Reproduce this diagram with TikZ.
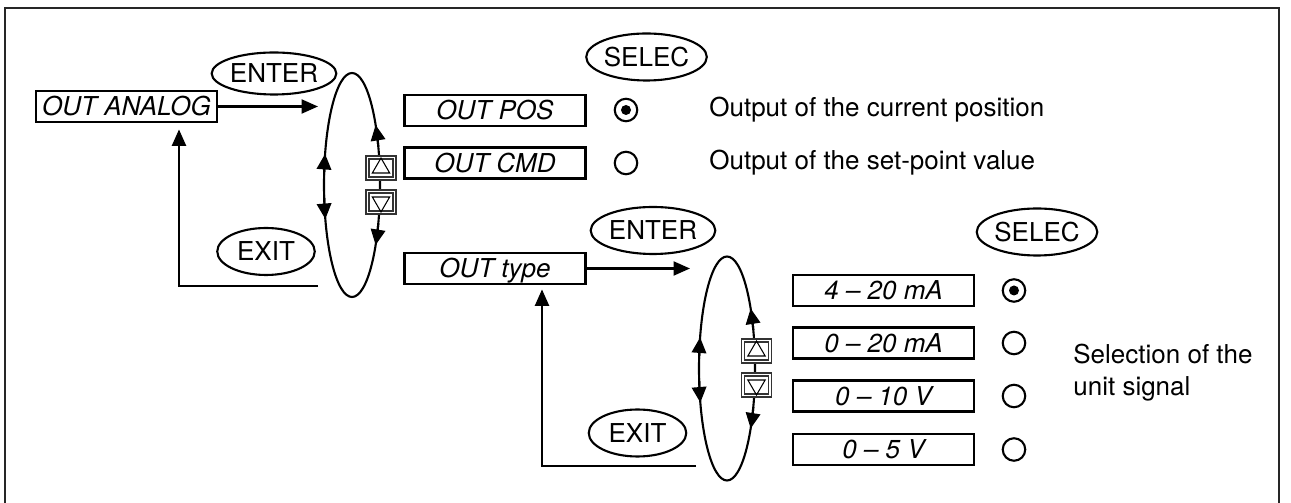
\documentclass[tikz,border=0pt]{standalone}
\usepackage{fontspec}
\setmainfont{TeX Gyre Heros}
\usetikzlibrary{arrows.meta,shapes.geometric}

\tikzset{
  menubox/.style={draw, line width=1.6pt, minimum width=3.62cm, minimum height=0.62cm,
    inner sep=0pt, text height=10.5pt, text depth=0pt, font=\fontsize{14.8}{17}\selectfont\itshape},
  keyoval/.style={draw, ellipse, line width=1.2pt, minimum width=1.95cm, minimum height=0.94cm,
    inner sep=0pt, text height=10.5pt, text depth=0pt, font=\fontsize{14.8}{17}\selectfont},
  radio/.style={draw, circle, line width=1.2pt, minimum size=0.45cm, inner sep=0pt},
  keybox/.style={draw=black!80, fill=white, double=white, double distance=1pt, line width=0.9pt,
    minimum width=0.54cm, minimum height=0.42cm, inner sep=0pt},
  keytri/.style={draw, regular polygon, regular polygon sides=3, minimum size=0.4cm,
    inner sep=0pt, line width=0.6pt},
  note/.style={anchor=west, align=left, inner sep=0pt, font=\fontsize{14.8}{18.1}\selectfont},
  flow/.style={line width=1.3pt, -{Triangle[length=3.3mm, width=2.8mm]}},
}

\begin{document}
\begin{tikzpicture}[x=0.02cm, y=0.02cm]
            \useasboundingbox (0,0) rectangle (1291,503);
            \draw[line width=1.1pt, black!85] (5,0)--(5,495)--(1279,495)--(1279,0);

            \coordinate (loop1) at (352,318);
            \coordinate (loop2) at (727,134.5);
            \coordinate (in1) at (318,396.5);
            \coordinate (in2) at (690,234.5);
            \coordinate (back1) at (318,217);
            \coordinate (back2) at (696,37);
            \coordinate (turn1) at (179,217);
            \coordinate (turn2) at (542,37);

            % scrolling loops
            \foreach \lp in {loop1,loop2}{
                \draw[line width=1.2pt] (\lp) ellipse [x radius=28, y radius=112];
                \foreach \a/\b in {20/32.4, -20/-32.4, 175/163.9, 185/197.7}
                    \draw[line width=1.2pt, -{Triangle[length=3.1mm, width=2.9mm]}]
                        (\lp) ++(\a:28 and 112) arc [start angle=\a, end angle=\b, x radius=28, y radius=112];
            }

            % up / down keys
            \node[keybox] (up1) at (381,335) {};
            \node[keybox] (down1) at (381,301) {};
            \node[keybox] (up2) at (756.5,152) {};
            \node[keybox] (down2) at (756.5,118) {};
            \foreach \k in {up1,up2}
                \node[keytri] at (\k) {};
            \foreach \k in {down1,down2}
                \node[keytri, shape border rotate=180] at (\k) {};

            % first level
            \node[menubox] (outanalog) at (126.5,396.5) {OUT ANALOG};
            \node[keyoval, minimum height=0.84cm] (enter1) at (274,429.5) {ENTER};
            \node[keyoval] (exit1) at (266,251.5) {EXIT};
            \draw[flow] (outanalog.east) -- (in1);
            \draw[flow, shorten >=0.12cm] (back1) -- (turn1) -- (turn1 |- outanalog.south);

            % output selection
            \node[menubox] (outpos) at (495,392.5) {OUT POS};
            \node[menubox] (outcmd) at (495,340) {OUT CMD};
            \node[menubox] (outtype) at (495,234.5) {OUT type};
            \node[keyoval] (selec1) at (646.5,446) {SELEC};
            \node[radio] (pos) at (626,393) {};
            \node[radio] (cmd) at (626,340) {};
            \fill (pos) circle [radius=5];
            \node[note] at (709,393) {Output of the current position};
            \node[note] at (709,340) {Output of the set-point value};

            % signal type
            \node[keyoval] (enter2) at (653,272.5) {ENTER};
            \node[keyoval] (exit2) at (637.5,70) {EXIT};
            \node[keyoval] (selec2) at (1037,271) {SELEC};
            \draw[flow] (outtype.east) -- (in2);
            \draw[flow, shorten >=0.08cm] (back2) -- (turn2) -- (turn2 |- outtype.south);

            \foreach \txt/\y [count=\i] in {{4 -- 20 mA}/212.5, {0 -- 20 mA}/160, {0 -- 10 V}/107, {0 -- 5 V}/53.5}{
                \node[menubox] (sig\i) at (883.5,\y) {\txt};
                \node[radio] (sel\i) at (1014,\y) {};
            }
            \fill (sel1) circle [radius=5];
            \node[note] at (1073,130) {Selection of the\\unit signal};
        \end{tikzpicture}
\end{document}
